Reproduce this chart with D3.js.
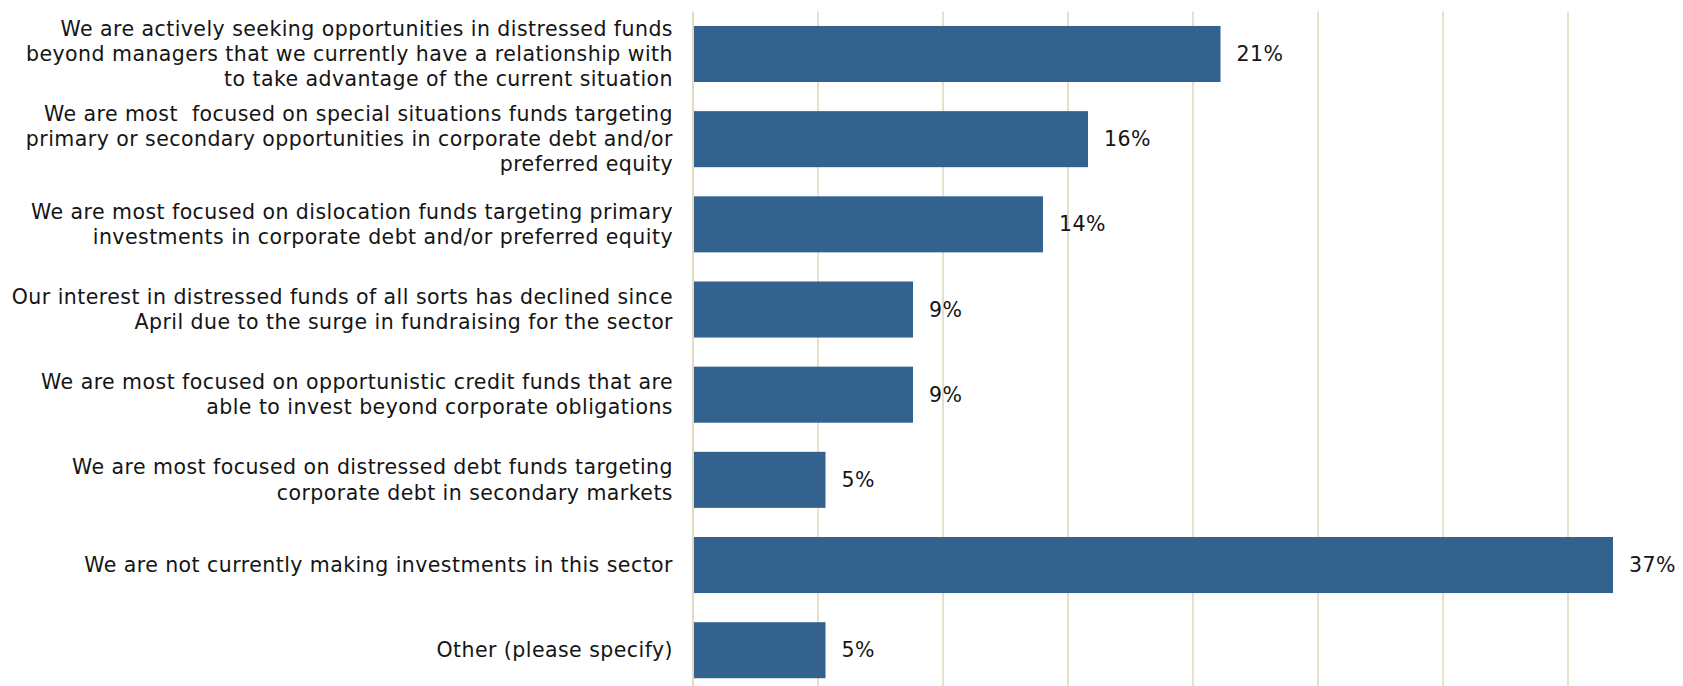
<!DOCTYPE html>
<html>
<head>
<meta charset="utf-8">
<script src="https://cdn.jsdelivr.net/npm/d3@7"></script>
<style>
  html, body { margin: 0; padding: 0; background: #ffffff; }
  svg { display: block; }
  text { font-family: "DejaVu Sans", Verdana, sans-serif; fill: #151515; }
</style>
</head>
<body>
<svg id="chart" width="1683" height="686"></svg>
<script>
const categories = [
  "We are actively seeking opportunities in distressed funds\nbeyond managers that we currently have a relationship with\nto take advantage of the current situation",
  "We are most  focused on special situations funds targeting\nprimary or secondary opportunities in corporate debt and/or\npreferred equity",
  "We are most focused on dislocation funds targeting primary\ninvestments in corporate debt and/or preferred equity",
  "Our interest in distressed funds of all sorts has declined since\nApril due to the surge in fundraising for the sector",
  "We are most focused on opportunistic credit funds that are\nable to invest beyond corporate obligations",
  "We are most focused on distressed debt funds targeting\ncorporate debt in secondary markets",
  "We are not currently making investments in this sector",
  "Other (please specify)"
];
const values = [21.1, 15.8, 14.0, 8.8, 8.8, 5.3, 36.8, 5.3];
const valueLabels = ["21%", "16%", "14%", "9%", "9%", "5%", "37%", "5%"];
const gridTicks = [5, 10, 15, 20, 25, 30, 35, 40];

const svg = d3.select("#chart");
const W = 1683, H = 686;
const x0 = 693, x1 = 1693;
const y0 = 11.4, y1 = 692.8;

const x = d3.scaleLinear().domain([0, 40]).range([x0, x1]);
const y = d3.scaleBand().domain(d3.range(categories.length)).range([y0, y1]).paddingInner(0.342).paddingOuter(0.171);

svg.append("defs").append("clipPath").attr("id", "c")
  .append("rect").attr("x", 0).attr("y", 0).attr("width", W).attr("height", H);

const g = svg.append("g").attr("clip-path", "url(#c)");

// gridlines
g.append("g").selectAll("line").data(gridTicks).join("line")
  .attr("x1", d => x(d)).attr("x2", d => x(d))
  .attr("y1", y0).attr("y2", y1)
  .attr("stroke", "#e9dfcf").attr("stroke-width", 2);

// axis line
g.append("line").attr("x1", x(0)).attr("x2", x(0)).attr("y1", y0).attr("y2", y1)
  .attr("stroke", "#e6d9c4").attr("stroke-width", 2);

// bars
g.append("g").selectAll("rect").data(values).join("rect")
  .attr("x", x(0) + 1)
  .attr("y", (d, i) => y(i))
  .attr("width", d => x(d) - x(0) - 1)
  .attr("height", y.bandwidth())
  .attr("fill", "#33628f");

// value labels
g.append("g").selectAll("text").data(values).join("text")
  .attr("x", d => x(d) + 16)
  .attr("y", (d, i) => y(i) + y.bandwidth() / 2)
  .attr("dominant-baseline", "central")
  .attr("font-size", 20.5)
  .attr("letter-spacing", 0.5)
  .text((d, i) => valueLabels[i]);

// category labels
const lineH = 25.3;
const labs = g.append("g").selectAll("text").data(categories).join("text")
  .attr("text-anchor", "end")
  .attr("font-size", 20.5)
  .attr("letter-spacing", 0.45)
  .attr("x", 673)
  .attr("y", (d, i) => y(i) + y.bandwidth() / 2);
labs.each(function(d) {
  const lines = d.split("\n");
  const t = d3.select(this);
  const off = -(lines.length - 1) / 2 * lineH;
  lines.forEach((ln, k) => {
    t.append("tspan").attr("x", 673).attr("dy", k === 0 ? off : lineH)
      .attr("dominant-baseline", "central").attr("xml:space", "preserve").text(ln);
  });
});
</script>
</body>
</html>
